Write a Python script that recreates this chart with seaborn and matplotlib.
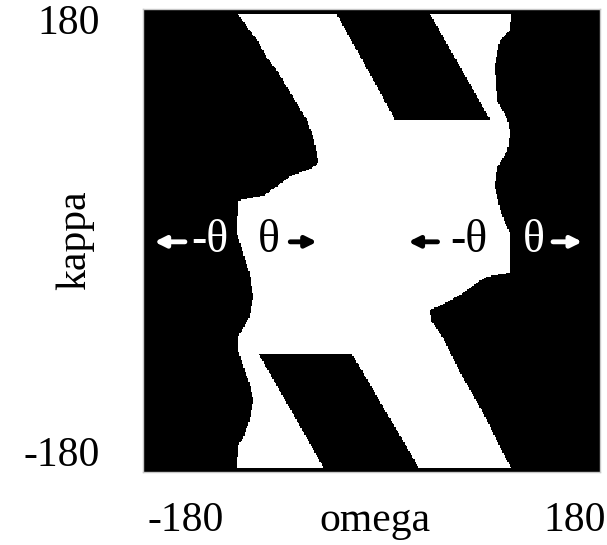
import numpy as np
import pandas as pd
import matplotlib
matplotlib.use("Agg")
import matplotlib.pyplot as plt
import seaborn as sns
from matplotlib.colors import ListedColormap

# left edge of the allowed (white) region, read from top to bottom
left_kappa = [176, 166, 156, 143, 133, 120, 107, 94, 81, 68, 60, 56, 50, 42, 35, 31,
              6, -10, -25, -44, -59, -68, -75, -85, -98, -111, -124, -140, -153, -160, -177]
left_omega = [-105, -98, -90, -83, -75, -67, -59, -51, -46, -43, -42, -48, -64, -75, -85, -105,
              -106, -101, -96, -93, -96, -101, -105, -105, -101, -96, -93, -96, -101, -105, -106]

# right edge of the allowed region
right_kappa = [176, 164, 156, 135, 109, 94, 84, 70, 57, 42, 26, 16, 6, -25, -28, -33,
               -42, -49, -54, -62, -77, -103, -134, -166, -177]
right_omega = [110, 109, 101, 97, 99, 107, 109, 107, 99, 97, 101, 104, 109, 109, 91, 83,
               70, 57, 46, 47, 57, 70, 88, 104, 110]

# forbidden stripes cut out of the white band (top and bottom)
upper_kappa = [94.2, 176]
upper_left = [18.5, -27.4]
upper_right = [93.4, 46.1]
lower_kappa = [-176, -87.7]
lower_left = [-38.0, -89.2]
lower_right = [36.9, -15.6]

kappa_min, kappa_max = -177, 176

omega = np.arange(-179.5, 180, 1.0)
kappa = np.arange(179.5, -180, -1.0)

lk = np.array(left_kappa)[::-1]
lo = np.array(left_omega)[::-1]
rk = np.array(right_kappa)[::-1]
ro = np.array(right_omega)[::-1]

rows = []
for k in kappa:
    lo_k = np.interp(k, lk, lo)
    hi_k = np.interp(k, rk, ro)
    row = (omega >= lo_k) & (omega <= hi_k) & (k >= kappa_min) & (k <= kappa_max)
    if k >= upper_kappa[0]:
        a = np.interp(k, upper_kappa, upper_left)
        b = np.interp(k, upper_kappa, upper_right)
        row &= ~((omega > a) & (omega < b))
    if k <= lower_kappa[1]:
        a = np.interp(k, lower_kappa, lower_left)
        b = np.interp(k, lower_kappa, lower_right)
        row &= ~((omega > a) & (omega < b))
    rows.append(row.astype(float))

grid = pd.DataFrame(np.array(rows), index=kappa, columns=omega)

plt.rcParams["font.family"] = "Liberation Serif"

fig = plt.figure(figsize=(6.07, 5.45), dpi=100)
ax = fig.add_axes([0.2356, 0.1339, 0.7529, 0.8495])
sns.heatmap(grid, cmap=ListedColormap(["black", "white"]), vmin=0, vmax=1,
            cbar=False, xticklabels=False, yticklabels=False, ax=ax)
ax.set_xlabel("")
ax.set_ylabel("")
for s in ax.spines.values():
    s.set_visible(True)
    s.set_color("#c8c8c8")
    s.set_linewidth(1)


def pos(om, ka):
    # omega/kappa -> heatmap cell coordinates
    return om + 180, 180 - ka


fs = 30
ax.text(-0.094, 0.968, "180", transform=ax.transAxes, ha="right", va="center", fontsize=fs)
ax.text(-0.094, 0.035, "-180", transform=ax.transAxes, ha="right", va="center", fontsize=fs)
ax.text(-0.149, 0.50, "kappa", transform=ax.transAxes, ha="center", va="center",
        rotation=90, fontsize=fs)
ax.text(0.094, -0.128, "-180", transform=ax.transAxes, ha="center", va="baseline", fontsize=fs)
ax.text(0.508, -0.128, "omega", transform=ax.transAxes, ha="center", va="baseline", fontsize=fs)
ax.text(1.013, -0.128, "180", transform=ax.transAxes, ha="right", va="baseline", fontsize=fs)

# theta markers and arrows
theta_marks = [(-127, "-θ", "white"), (-81, "θ", "black"), (77, "-θ", "black"), (128, "θ", "white")]
for om, label, col in theta_marks:
    x, y = pos(om, 0)
    ax.text(x, y, label, ha="center", va="center", fontsize=33, color=col)

arrows = [(-147, -171, "white"), (-64, -43, "black"), (52, 29, "black"), (143, 166, "white")]
for start, end, col in arrows:
    ax.annotate("", xy=pos(end, -1), xytext=pos(start, -1),
                arrowprops=dict(arrowstyle="-|>", color=col, lw=3.5,
                                mutation_scale=16, shrinkA=0, shrinkB=0))

fig.savefig("out.png", dpi=100)
